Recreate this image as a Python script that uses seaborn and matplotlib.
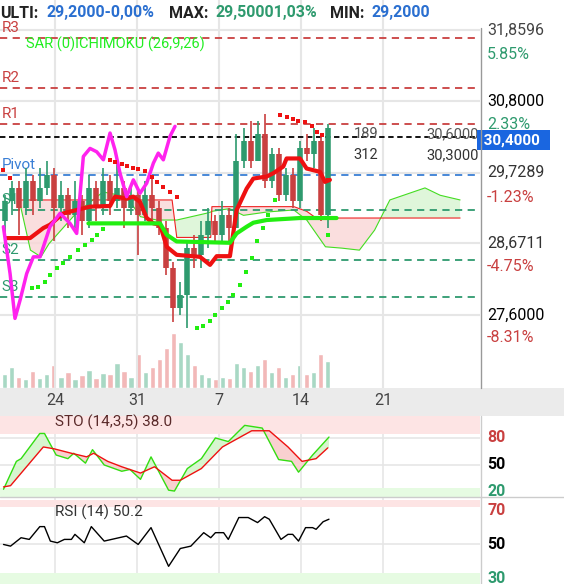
import numpy as np
import pandas as pd
import matplotlib
matplotlib.use('Agg')
import matplotlib.pyplot as plt
import seaborn as sns

# ──────────────────────────────────────────────────────────────────────────────
# Dados
# ──────────────────────────────────────────────────────────────────────────────
dias = [19.7 + 0.6 * i for i in range(47)]
abertura = [29.0, 29.3, 29.5, 29.2, 29.6, 29.3, 29.5, 29.7, 29.2, 29.4, 29.1, 29.3, 29.0, 29.5, 29.2, 29.6,
            29.3, 29.5, 29.2, 29.4, 29.1, 29.4, 29.2, 28.9, 28.3, 27.7, 27.9, 28.6, 28.5, 28.8, 29.0, 28.8,
            29.1, 28.9, 29.9, 30.2, 29.9, 30.3, 29.6, 30.0, 29.4, 29.7, 29.3, 30.1, 30.0, 30.2, 29.1]
fechamento = [29.3, 29.5, 29.2, 29.6, 29.3, 29.5, 29.7, 29.2, 29.4, 29.1, 29.3, 29.0, 29.5, 29.2, 29.6, 29.3,
              29.5, 29.2, 29.4, 29.1, 29.4, 29.2, 28.9, 28.3, 27.7, 27.9, 28.6, 28.5, 28.8, 29.0, 28.8, 29.1,
              28.9, 29.9, 30.2, 29.9, 30.3, 29.6, 30.0, 29.4, 29.7, 29.3, 30.1, 30.0, 30.2, 29.1, 30.4]
maxima = [29.4, 29.6, 29.6, 29.8, 29.7, 29.8, 29.9, 29.8, 29.6, 29.5, 29.6, 29.4, 29.7, 29.6, 29.8, 29.7,
          29.9, 29.6, 29.5, 29.5, 29.6, 29.7, 29.3, 29.0, 28.4, 28.1, 28.7, 28.8, 29.0, 29.2, 29.1, 29.3,
          29.2, 30.3, 30.4, 30.5, 30.5, 30.6, 30.1, 30.1, 29.8, 29.8, 30.2, 30.3, 30.4, 30.3, 30.45]
minima = [28.7, 29.1, 28.8, 29.1, 29.1, 29.2, 29.4, 28.7, 29.0, 28.9, 28.9, 28.8, 28.9, 29.0, 29.1, 29.1,
          29.2, 28.9, 29.1, 28.5, 29.0, 29.0, 28.8, 28.2, 27.5, 27.6, 27.4, 28.3, 28.3, 28.6, 28.7, 28.7,
          28.7, 28.9, 29.8, 29.8, 29.9, 29.5, 29.5, 29.3, 29.3, 29.2, 29.2, 29.9, 29.8, 29.0, 28.9]
volume = [12, 18, 10, 8, 15, 9, 12, 20, 10, 14, 8, 11, 16, 9, 13, 12, 22, 15, 10, 30, 14, 18, 25, 35,
          48, 40, 30, 20, 12, 10, 8, 10, 9, 22, 18, 15, 20, 25, 14, 18, 10, 12, 20, 12, 14, 30, 24]

# Ichimoku
tenkan_x = [19.87, 21.87, 23.0, 23.57, 24.71, 25.85, 26.99, 28.7, 29.12, 30.12, 30.69, 31.26, 31.83, 32.4,
            32.97, 33.54, 34.39, 36.38, 37.24, 37.81, 38.94, 39.51, 40.37, 40.94, 42.08, 42.65, 43.5, 43.78,
            44.92, 45.49, 46.63, 47.06, 47.48]
tenkan_y = [28.75, 28.75, 28.9, 28.95, 29.12, 29.17, 29.22, 29.23, 29.37, 29.34, 29.37, 29.29, 29.05, 28.97,
            28.95, 28.62, 28.5, 28.47, 28.35, 28.48, 28.48, 29.17, 29.49, 29.64, 29.67, 29.72, 29.82, 29.94,
            29.94, 29.79, 29.74, 29.59, 29.62]
kijun_x = [26.85, 32.97, 33.54, 34.39, 38.94, 39.51, 40.37, 40.94, 42.08, 44.92, 48.05]
kijun_y = [28.97, 28.97, 28.8, 28.7, 28.68, 28.82, 28.92, 28.98, 29.02, 29.05, 29.05]
chikou_x = [19.59, 20.16, 20.58, 21.01, 21.58, 22.15, 22.72, 23.57, 24.43, 25.28, 25.85, 26.42, 26.99, 27.56,
            28.13, 28.7, 29.12, 29.55, 30.12, 30.69, 31.26, 31.83, 32.4, 32.82, 33.25, 33.82, 34.25]
chikou_y = [28.92, 28.22, 27.55, 27.82, 28.22, 28.47, 28.47, 28.92, 29.12, 28.97, 28.82, 29.97, 30.09, 30.04,
            29.92, 30.32, 30.07, 29.72, 29.37, 29.62, 29.42, 29.57, 29.87, 30.02, 29.92, 30.27, 30.42]
nuvem_x = [21.0, 21.9, 22.8, 23.5, 25.8, 28.1, 30.1, 31.3, 32.7, 34.0, 34.4, 36.9, 37.3, 37.4, 38.9, 40.1,
           42.1, 44.4, 45.5, 46.3, 47.1, 48.5, 50.0, 51.3, 52.6, 55.6, 56.9, 58.6]
span_a = [29.27, 28.57, 28.47, 28.67, 29.12, 29.44, 29.37, 29.07, 29.02, 29.02, 29.02, 29.12, 29.14, 29.15,
          29.19, 29.09, 29.14, 29.17, 29.02, 28.82, 28.62, 28.6, 28.57, 28.87, 29.32, 29.5, 29.39, 29.32]
span_b = [29.32, 29.32, 29.32, 29.32, 29.32, 29.32, 29.32, 29.32, 29.32, 29.32, 28.76, 28.76, 28.76, 29.22,
          29.22, 29.22, 29.22, 29.22, 29.15, 29.05, 29.05, 29.05, 29.05, 29.05, 29.05, 29.05, 29.05, 29.05]

# SAR parabólico
sar_alto_x = [19.56, 20.16, 28.7, 29.12, 29.69, 30.12, 30.69, 31.12, 31.69, 32.25, 32.68, 33.25, 33.82, 34.39,
              43.2, 43.78, 44.35, 44.78, 45.35, 45.92, 46.35, 46.77, 47.34]
sar_alto_y = [29.77, 29.65, 29.92, 29.89, 29.85, 29.83, 29.8, 29.78, 29.76, 29.67, 29.59, 29.52, 29.44, 29.37,
              30.59, 30.56, 30.53, 30.5, 30.48, 30.42, 30.34, 30.29, 29.62]
sar_baixo_x = [22.0, 22.58, 23.15, 23.57, 24.14, 24.71, 25.28, 25.99, 26.56, 27.13, 27.56, 28.13, 36.1, 36.67,
               37.24, 37.66, 38.23, 38.8, 39.23, 39.8, 40.31, 40.8, 41.22, 41.79, 42.2, 42.79, 47.34]
sar_baixo_y = [28.0, 28.02, 28.1, 28.2, 28.3, 28.38, 28.47, 28.57, 28.65, 28.72, 28.8, 28.89, 27.4, 27.43,
               27.51, 27.6, 27.7, 27.8, 27.9, 28.05, 28.25, 28.45, 28.7, 28.9, 29.1, 29.32, 28.8]

# Pivôs
pivos = {'R3': 31.74, 'R2': 30.99, 'R1': 30.45, 'Pivot': 29.69, 'S1': 29.17, 'S2': 28.42, 'S3': 27.87}
pivo_cores = {'R3': '#c94040', 'R2': '#c94040', 'R1': '#c94040', 'Pivot': '#3a7fd5',
              'S1': '#2e9a6e', 'S2': '#2e9a6e', 'S3': '#2e9a6e'}

# Estocástico
sto_k_x = [19.6, 20.7, 21.1, 22.7, 23.1, 24.1, 25.1, 25.6, 26.6, 27.2, 28.2, 29.7, 30.4, 31.3, 32.2, 33.7,
           34.2, 35.3, 36.5, 37.7, 38.8, 40.2, 41.7, 43.1, 44.2, 44.8, 46.0, 47.4]
sto_k = [23, 54, 57, 85, 85, 61, 57, 63, 52, 67, 50, 43, 45, 34, 59, 22, 21, 46, 57, 80, 76, 94, 91, 56, 54,
         42, 61, 81]
sto_d_x = [19.6, 20.2, 23.0, 23.9, 25.4, 26.7, 27.3, 28.5, 29.7, 31.3, 32.5, 34.0, 34.7, 36.5, 38.3, 40.8,
           42.3, 43.9, 45.1, 46.3, 47.3]
sto_d = [25.6, 27, 70, 68, 63, 59, 63, 54, 48, 41, 48, 33, 33, 46, 70, 88, 88, 70, 54, 57, 69]

# RSI
rsi_x = [19.6, 20.2, 21.1, 21.8, 22.7, 23.1, 23.6, 24.2, 24.8, 25.4, 25.7, 26.5, 27.1, 28.2, 30.1, 31.1,
         32.2, 33.7, 34.7, 35.6, 36.7, 37.3, 37.7, 38.4, 38.8, 39.7, 40.5, 41.3, 41.9, 42.3, 43.3, 43.9,
         44.3, 44.8, 45.4, 46.0, 46.3, 46.9, 47.4]
rsi = [50, 49, 54, 53, 60.6, 60.6, 52, 51, 53, 53, 56, 51, 60.6, 52, 55, 50, 60, 37, 47.6, 49, 57, 54, 57,
       57, 53, 66, 66, 63, 66.5, 65, 53, 56, 56, 52, 60, 60, 59, 63.5, 65]

dias_ticks = [24, 31, 38, 45, 52]
dias_labels = ['24', '31', '7', '14', '21']

VERDE = '#2e9a6e'
VERMELHO = '#c94040'
AZUL = '#2a6fd0'
XLIM = (19.3, 60.3)

sns.set_style('white')
plt.rcParams['font.family'] = ['Roboto', 'DejaVu Sans']

fig = plt.figure(figsize=(5.64, 5.84), dpi=100)
W, H = 564, 584
ax = fig.add_axes([0, (H - 388) / H, 480 / W, 388 / H])
ax_data = fig.add_axes([0, (H - 416) / H, 1, 28 / H])
ax_sto = fig.add_axes([0, (H - 497) / H, 480 / W, 81 / H])
ax_rsi = fig.add_axes([0, 0, 480 / W, 87 / H])

# ──────────────────────────────────────────────────────────────────────────────
# Painel principal
# ──────────────────────────────────────────────────────────────────────────────
ax.set_xlim(*XLIM)
ax.set_ylim(26.51, 32.308)
for d in dias_ticks:
    ax.axvline(d, color='#e6e6e6', lw=1.5, zorder=0)
for p in [31.8596, 30.8, 29.7289, 28.6711, 27.6]:
    ax.axhline(p, color='#e6e6e6', lw=1.5, zorder=0)

# volume
axv = ax.twinx()
axv.set_ylim(0, max(volume) * 388 / 55)
cores_vol = ['#f2b8b8' if c < o else '#a8d8c4' for o, c in zip(abertura, fechamento)]
axv.bar(dias, volume, width=0.45, color=cores_vol, zorder=1)
axv.set_axis_off()
ax.set_zorder(axv.get_zorder() + 1)
ax.patch.set_visible(False)

# nuvem
sa, sb = np.array(span_a), np.array(span_b)
ax.fill_between(nuvem_x, sa, sb, where=sb >= sa, color='#f9d6d6', alpha=0.8, interpolate=True, lw=0)
ax.fill_between(nuvem_x, sa, sb, where=sa >= sb, color='#dcf5d6', alpha=0.9, interpolate=True, lw=0)
ax.plot(nuvem_x, span_a, color='#44dd22', lw=0.8)
ax.plot(nuvem_x, span_b, color='#ee2222', lw=0.8)

for nome, p in pivos.items():
    ax.axhline(p, color=pivo_cores[nome], ls=(0, (4, 3)), lw=1.3)
    ax.text(19.45, p + 0.05, nome, color=pivo_cores[nome], fontsize=11, va='bottom')
ax.axhline(30.26, color='black', ls=(0, (3, 2)), lw=1.3)

# candles
for d, o, c, h, l in zip(dias, abertura, fechamento, maxima, minima):
    cor = VERDE if c >= o else VERMELHO
    ax.vlines(d, l, h, color=cor, lw=1.2, zorder=3)
    ax.vlines(d, min(o, c), max(o, c), color=cor, lw=4, zorder=3)

sns.lineplot(x=tenkan_x, y=tenkan_y, ax=ax, color='#ee1111', lw=3, sort=False, zorder=4)
sns.lineplot(x=kijun_x, y=kijun_y, ax=ax, color='#22ee11', lw=3, sort=False, zorder=4)
sns.lineplot(x=chikou_x, y=chikou_y, ax=ax, color='#ff22ee', lw=2.5, sort=False, zorder=4)
sns.scatterplot(x=sar_alto_x, y=sar_alto_y, ax=ax, color='#ee1111', marker='s', s=12, lw=0, zorder=5)
sns.scatterplot(x=sar_baixo_x, y=sar_baixo_y, ax=ax, color='#22ee11', marker='s', s=12, lw=0, zorder=5)

ax.text(49.5, 30.30, '189', color='#555555', fontsize=10.5, va='center')
ax.text(49.5, 29.99, '312', color='#333333', fontsize=10.5, va='center')
ax.text(55.7, 30.30, '30,6000', color='#555555', fontsize=10.5, va='center')
ax.text(55.7, 29.99, '30,3000', color='#333333', fontsize=10.5, va='center')
ax.text(21.5, 31.65, 'SAR (0)ICHIMOKU (26,9,26)', color='#22ee22', fontsize=10.5, va='center')

tr = ax.get_yaxis_transform()
rotulos = [(31.8596, '31,8596', '#444444'), (31.50, '5.85%', VERDE), (30.80, '30,8000', 'black'),
           (30.45, '2.33%', VERDE), (29.7289, '29,7289', '#333333'), (29.36, '-1.23%', VERMELHO),
           (28.6711, '28,6711', '#333333'), (28.32, '-4.75%', VERMELHO), (27.60, '27,6000', 'black'),
           (27.26, '-8.31%', VERMELHO)]
for p, t, cor in rotulos:
    ax.text(1.015, p, t, transform=tr, color=cor, fontsize=11.5, va='center', clip_on=False)
ax.text(1.0, 30.21, ' 30,4000  ', transform=tr, color='white', fontsize=11, va='center', weight='bold',
        bbox=dict(boxstyle='square,pad=0.2', fc='#1a66e0', ec='none'), clip_on=False)
ax.set_axis_off()

# cabeçalho
cab = [(0.0, 'ULTI:', '#222222'), (46, '29,2000-0,00%', AZUL), (169, 'MAX:', '#222222'),
       (215, '29,50001,03%', VERDE), (330, 'MIN:', '#222222'), (372, '29,2000', AZUL)]
for x, t, cor in cab:
    fig.text(x / W, 1 - 13 / H, t, fontsize=11.5, color=cor, va='center', weight='bold')

# ──────────────────────────────────────────────────────────────────────────────
# Faixa de datas
# ──────────────────────────────────────────────────────────────────────────────
ax_data.set_xlim(XLIM[0], XLIM[0] + (XLIM[1] - XLIM[0]) * W / 480)
ax_data.set_ylim(0, 1)
ax_data.set_facecolor('#ebebeb')
for d, t in zip(dias_ticks, dias_labels):
    ax_data.text(d, 0.55, t, ha='center', va='center', fontsize=11.5, color='#444444')
ax_data.set_xticks([])
ax_data.set_yticks([])
for s in ax_data.spines.values():
    s.set_visible(False)

# ──────────────────────────────────────────────────────────────────────────────
# Estocástico
# ──────────────────────────────────────────────────────────────────────────────
ax_sto.set_xlim(*XLIM)
ax_sto.set_ylim(14.4, 104.4)
ax_sto.axhspan(84.5, 104.4, color='#fde4e4', lw=0)
ax_sto.axhspan(14.4, 24.5, color='#e6fbe2', lw=0)
for d in dias_ticks:
    ax_sto.axvline(d, color='#e6e6e6', lw=1.2, zorder=0)
for v in [50, 80]:
    ax_sto.axhline(v, color='#e6e6e6', lw=1.2, zorder=0)
grade = np.linspace(19.6, 47.4, 300)
k_g = np.interp(grade, sto_k_x, sto_k)
d_g = np.interp(grade, sto_d_x, sto_d)
ax_sto.fill_between(grade, k_g, d_g, where=k_g >= d_g, color='#d7f5cf', lw=0, interpolate=True)
ax_sto.fill_between(grade, k_g, d_g, where=d_g >= k_g, color='#f9d0d0', lw=0, interpolate=True)
sns.lineplot(x=sto_k_x, y=sto_k, ax=ax_sto, color='#33dd11', lw=1, sort=False)
sns.lineplot(x=sto_d_x, y=sto_d, ax=ax_sto, color='#ee1111', lw=1, sort=False)
ax_sto.text(24.0, 97, 'STO (14,3,5) 38.0', fontsize=11, color='#5a2a2a', va='center')
tr = ax_sto.get_yaxis_transform()
for v, cor in [(80, VERMELHO), (50, 'black'), (20, VERDE)]:
    ax_sto.text(1.015, v, str(v), transform=tr, color=cor, fontsize=11.5, weight='bold', va='center',
                clip_on=False)
ax_sto.set_axis_off()

# ──────────────────────────────────────────────────────────────────────────────
# RSI
# ──────────────────────────────────────────────────────────────────────────────
ax_rsi.set_xlim(*XLIM)
ax_rsi.set_ylim(26.5, 78.2)
ax_rsi.axhspan(72.4, 76.5, color='#fde4e4', lw=0)
ax_rsi.axhspan(26.5, 32.9, color='#e6fbe2', lw=0)
for d in dias_ticks:
    ax_rsi.axvline(d, color='#e6e6e6', lw=1.2, zorder=0)
ax_rsi.axhline(50, color='#e6e6e6', lw=1.2, zorder=0)
sns.lineplot(x=rsi_x, y=rsi, ax=ax_rsi, color='black', lw=1, sort=False)
ax_rsi.text(24.0, 69, 'RSI (14) 50.2', fontsize=11, color='#333333', va='center')
tr = ax_rsi.get_yaxis_transform()
for v, cor in [(70, VERMELHO), (50, 'black'), (30, VERDE)]:
    ax_rsi.text(1.015, v, str(v), transform=tr, color=cor, fontsize=11.5, weight='bold', va='center',
                clip_on=False)
ax_rsi.set_axis_off()

fig.add_artist(plt.Line2D([481 / W, 481 / W], [0, (H - 416) / H], color='#cccccc', lw=1))
fig.add_artist(plt.Line2D([481 / W, 481 / W], [(H - 388) / H, 1 - 28 / H], color='#999999', lw=1))
fig.add_artist(plt.Line2D([0, 1], [(H - 497) / H] * 2, color='#cccccc', lw=1))

fig.savefig('out.png', dpi=100)
